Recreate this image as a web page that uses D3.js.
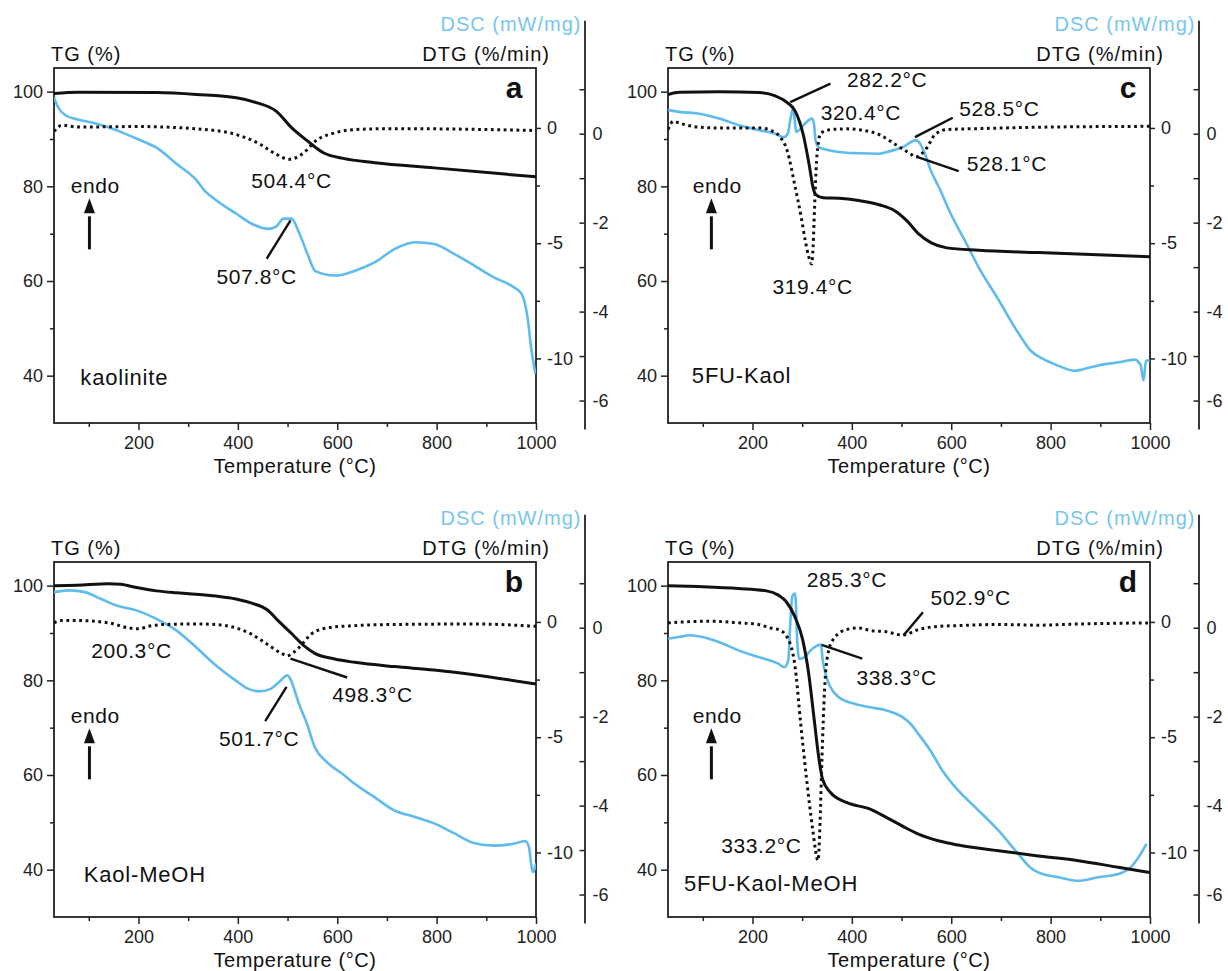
<!DOCTYPE html>
<html>
<head>
<meta charset="utf-8">
<script src="https://cdn.jsdelivr.net/npm/d3@7"></script>
<style>
body { margin: 0; background: #fff; }
svg text { font-family: "Liberation Sans", Arial, sans-serif; }
</style>
</head>
<body>
<div id="chart"></div>
<script>
// shared axis ranges (same for all four panels)
var tempDomain = [30, 1000];
var tgDomain = [30, 105];
var dtgDomain = [-12.8, 2.6];
var dscDomain = [-6.64, 2.55];

var tempTicks = [200, 400, 600, 800, 1000], tempMinor = [100, 300, 500, 700, 900];
var tgTicks = [40, 60, 80, 100], tgMinor = [50, 70, 90];
var dtgTicks = [0, -5, -10], dtgMinor = [-2.5, -7.5];
var dscTicks = [0, -2, -4, -6], dscMinor = [1, -1, -3, -5];

// ---- panel a : kaolinite ----  [temperature, value]
var tgA = [[30,99.6],[78,99.9],[237,99.8],[317,99.4],[397,98.7],[437,97.7],[477,95.9],[508,92.4],[540,89.6],[572,87.1],[612,85.9],[676,85.0],[795,83.9],[1000,82.0]];
var dtgA = [[30,-0.15],[46,0.12],[78,0.04],[199,0.06],[317,-0.04],[397,-0.29],[445,-0.71],[477,-1.14],[504,-1.36],[533,-1.07],[556,-0.57],[596,-0.21],[636,-0.07],[716,-0.03],[1000,-0.11]];
var dscA = [[30,0.82],[38,0.60],[54,0.41],[78,0.32],[118,0.22],[158,0.07],[198,-0.12],[237,-0.32],[277,-0.68],[317,-1.05],[333,-1.28],[357,-1.50],[397,-1.80],[429,-2.03],[461,-2.14],[477,-2.09],[492,-1.91],[508,-1.91],[524,-2.25],[540,-2.70],[556,-3.09],[596,-3.19],[636,-3.08],[676,-2.89],[716,-2.59],[756,-2.44],[795,-2.48],[835,-2.70],[875,-2.96],[915,-3.23],[955,-3.45],[971,-3.60],[983,-4.13],[991,-4.88],[999,-5.40]];

// ---- panel b : Kaol-MeOH ----
var tgB = [[30,100],[76,100.1],[140,100.4],[164,100.3],[196,99.6],[236,98.9],[276,98.5],[316,98.2],[356,97.8],[396,97.2],[428,96.3],[459,94.9],[483,92.4],[507,90.0],[531,87.5],[555,85.7],[595,84.5],[635,83.8],[715,82.9],[795,82.2],[875,81.2],[1000,79.2]];
var dtgB = [[30,-0.04],[44,0.06],[76,0.06],[140,-0.04],[180,-0.26],[200,-0.3],[220,-0.19],[252,-0.11],[316,-0.09],[356,-0.11],[396,-0.26],[428,-0.54],[459,-0.97],[491,-1.4],[499,-1.47],[523,-1.11],[547,-0.54],[579,-0.26],[635,-0.16],[715,-0.11],[875,-0.09],[1000,-0.19]];
var dscB = [[30,0.80],[60,0.84],[92,0.80],[124,0.65],[156,0.50],[196,0.39],[236,0.20],[276,-0.06],[316,-0.44],[356,-0.85],[396,-1.19],[420,-1.37],[444,-1.43],[467,-1.37],[483,-1.22],[500,-1.07],[507,-1.19],[523,-1.71],[539,-2.16],[555,-2.69],[579,-3.02],[611,-3.29],[635,-3.51],[675,-3.81],[715,-4.11],[755,-4.25],[795,-4.40],[835,-4.62],[875,-4.84],[915,-4.90],[954,-4.86],[978,-4.80],[986,-4.94],[990,-5.30],[994,-5.50],[1000,-5.30]];

// ---- panel c : 5FU-Kaol ----
var tgC = [[30,99.4],[53,99.9],[133,100],[214,99.8],[246,99.1],[270,97.7],[286,95.9],[302,91.0],[314,84.6],[322,79.7],[328,78.2],[342,77.6],[374,77.5],[414,77.0],[455,76.1],[487,74.8],[511,72.7],[535,69.9],[559,68.1],[591,67.0],[655,66.5],[776,66.0],[1000,65.1]];
var dtgC = [[30,-0.07],[41,0.29],[53,0.21],[93,0.03],[133,0],[214,0],[238,-0.12],[254,-0.35],[270,-1.0],[286,-2.57],[298,-3.86],[306,-4.86],[313,-5.57],[319,-5.9],[322,-5.14],[325,-3.43],[329,-1.43],[333,-0.57],[338,-0.21],[358,-0.07],[390,-0.04],[422,-0.1],[455,-0.29],[487,-0.71],[519,-1.14],[528,-1.26],[551,-0.86],[567,-0.29],[591,-0.07],[655,-0.03],[776,0.03],[1000,0.07]];
var dscC = [[30,0.53],[53,0.49],[93,0.45],[133,0.34],[173,0.19],[214,0.08],[246,0],[263,-0.08],[271,0],[276,0.30],[282,0.58],[285,0.30],[288,0.04],[294,0.08],[306,0.23],[320,0.34],[324,0.20],[327,-0.15],[333,-0.30],[342,-0.34],[374,-0.41],[414,-0.44],[455,-0.45],[471,-0.41],[503,-0.30],[528,-0.15],[535,-0.19],[547,-0.45],[559,-0.83],[575,-1.20],[599,-1.80],[631,-2.48],[655,-3.0],[696,-3.75],[736,-4.5],[760,-4.88],[784,-5.06],[816,-5.22],[848,-5.33],[864,-5.30],[896,-5.21],[937,-5.14],[969,-5.08],[981,-5.20],[987,-5.55],[992,-5.10],[999,-5.10]];

// ---- panel d : 5FU-Kaol-MeOH ----
var tgD = [[30,100],[91,99.8],[172,99.4],[228,98.9],[252,98.0],[268,96.6],[285,93.5],[301,88.6],[313,81.5],[325,71.0],[333,64.0],[341,59.1],[357,56.3],[389,54.2],[437,52.8],[470,51.0],[502,49.2],[534,47.5],[574,46.1],[614,45.2],[695,44.0],[775,42.9],[856,41.9],[936,40.5],[1000,39.4]];
var dtgD = [[30,-0.04],[51,-0.01],[116,0.03],[172,-0.04],[212,-0.11],[236,-0.26],[252,-0.33],[268,-0.6],[285,-1.83],[297,-4.4],[309,-6.83],[321,-8.97],[332,-10.35],[336,-8.69],[340,-5.83],[345,-2.97],[353,-1.26],[365,-0.69],[389,-0.33],[413,-0.26],[437,-0.37],[470,-0.43],[502,-0.57],[534,-0.33],[574,-0.19],[614,-0.16],[695,-0.11],[775,-0.14],[856,-0.09],[1000,-0.04]];
var dscD = [[30,-0.25],[51,-0.21],[75,-0.17],[99,-0.21],[132,-0.32],[172,-0.51],[212,-0.66],[252,-0.81],[264,-0.89],[272,-0.74],[276,0.09],[280,0.70],[285,0.77],[287,0.62],[290,-0.29],[294,-0.70],[305,-0.66],[317,-0.51],[338,-0.38],[341,-0.70],[349,-1.11],[357,-1.34],[373,-1.56],[405,-1.71],[437,-1.79],[470,-1.86],[502,-2.01],[518,-2.16],[534,-2.39],[558,-2.76],[582,-3.21],[614,-3.66],[655,-4.11],[695,-4.56],[735,-5.09],[759,-5.39],[775,-5.50],[816,-5.61],[856,-5.69],[896,-5.61],[936,-5.54],[961,-5.39],[977,-5.16],[993,-4.86]];

// peak labels, placed in (temperature, TG) units of each panel
var notesA = [{text: "504.4°C", t: 508, v: 81.2}, {text: "507.8°C", t: 438, v: 60.8}];
var notesB = [{text: "200.3°C", t: 186, v: 86.3}, {text: "498.3°C", t: 671, v: 76.8}, {text: "501.7°C", t: 443, v: 67.6}];
var notesC = [{text: "282.2°C", t: 471, v: 102.4}, {text: "320.4°C", t: 418, v: 95.4}, {text: "528.5°C", t: 697, v: 96.4}, {text: "528.1°C", t: 712, v: 84.8}, {text: "319.4°C", t: 321, v: 58.8}];
var notesD = [{text: "285.3°C", t: 390, v: 101.1}, {text: "502.9°C", t: 639, v: 97.3}, {text: "338.3°C", t: 490, v: 80.5}, {text: "333.2°C", t: 218, v: 45.1}];

// leader lines [t1, tg1, t2, tg2]
var leadersA = [[458, 64.7, 506, 72.8]];
var leadersB = [[506, 84.6, 620, 80.6], [455, 71.4, 498, 78.6]];
var leadersC = [[276, 97.8, 357, 101.7], [527, 90.4, 603, 94.5], [531, 86.2, 615, 83.2]];
var leadersD = [[504, 89.5, 543, 94.4], [339, 87.5, 421, 84.6]];

var panels = [
    {letter: "a", left: 54, top: 68, tg: tgA, dtg: dtgA, dsc: dscA, notes: notesA, leaders: leadersA, sample: "kaolinite", sampleAt: [83, 39.8], endoAt: [113, 80]},
    {letter: "b", left: 54, top: 562, tg: tgB, dtg: dtgB, dsc: dscB, notes: notesB, leaders: leadersB, sample: "Kaol-MeOH", sampleAt: [90, 39.1], endoAt: [113, 72.4]},
    {letter: "c", left: 668, top: 68, tg: tgC, dtg: dtgC, dsc: dscC, notes: notesC, leaders: leadersC, sample: "5FU-Kaol", sampleAt: [78, 40.2], endoAt: [129, 80]},
    {letter: "d", left: 668, top: 562, tg: tgD, dtg: dtgD, dsc: dscD, notes: notesD, leaders: leadersD, sample: "5FU-Kaol-MeOH", sampleAt: [62, 37.1], endoAt: [129, 72.4]}
];

var widthP = 482, heightP = 355;
var dscColor = "#5fbbec", dscLabelColor = "#78c6f0";
// plain hyphen for negatives, like the original figure
var fmt = function (d) { return String(d); };

var svg = d3.select("#chart").append("svg")
    .attr("width", 1228)
    .attr("height", 971);

function styleAxis(g, size) {
    g.select(".domain").remove();
    g.selectAll("line").attr("stroke", "#222").attr("stroke-width", 1.5);
    g.selectAll("text").attr("font-size", size).attr("fill", "#222")
        .attr("font-family", "Liberation Sans, Arial, sans-serif");
}

function drawPanel(p) {
    var g = svg.append("g").attr("transform", "translate(" + p.left + "," + p.top + ")");

    var x = d3.scaleLinear().domain(tempDomain).range([0, widthP]);
    var yTG = d3.scaleLinear().domain(tgDomain).range([heightP, 0]);
    var yDTG = d3.scaleLinear().domain(dtgDomain).range([heightP, 0]);
    var yDSC = d3.scaleLinear().domain(dscDomain).range([heightP + 6, -47.7]);

    // axes
    var gx = g.append("g").attr("transform", "translate(0," + heightP + ")")
        .call(d3.axisBottom(x).tickValues(tempTicks).tickFormat(fmt).tickSize(7).tickPadding(6));
    styleAxis(gx, 18);
    var gx2 = g.append("g").attr("transform", "translate(0," + heightP + ")")
        .call(d3.axisBottom(x).tickValues(tempMinor).tickSize(4).tickFormat(""));
    styleAxis(gx2, 18);

    var gy = g.append("g").call(d3.axisLeft(yTG).tickValues(tgTicks).tickFormat(fmt).tickSize(7).tickPadding(4));
    styleAxis(gy, 18);
    var gy2 = g.append("g").call(d3.axisLeft(yTG).tickValues(tgMinor).tickSize(4).tickFormat(""));
    styleAxis(gy2, 18);

    var gr = g.append("g").attr("transform", "translate(" + widthP + ",0)")
        .call(d3.axisRight(yDTG).tickValues(dtgTicks).tickFormat(fmt).tickSize(5).tickPadding(6));
    styleAxis(gr, 18);
    var gr2 = g.append("g").attr("transform", "translate(" + widthP + ",0)")
        .call(d3.axisRight(yDTG).tickValues(dtgMinor).tickSize(4).tickFormat(""));
    styleAxis(gr2, 18);

    // separate DSC axis, ticks pointing inward
    var dscX = widthP + 48.5;
    var gd = g.append("g").attr("transform", "translate(" + dscX + ",0)")
        .call(d3.axisRight(yDSC).tickValues(dscTicks).tickFormat(fmt).tickSizeInner(-5).tickSizeOuter(0).tickPadding(8));
    gd.select(".domain").attr("stroke", "#222").attr("stroke-width", 1.8);
    gd.selectAll("line").attr("stroke", "#222").attr("stroke-width", 1.5);
    gd.selectAll("text").attr("font-size", 18).attr("fill", "#222")
        .attr("font-family", "Liberation Sans, Arial, sans-serif");
    g.append("g").attr("transform", "translate(" + dscX + ",0)")
        .call(d3.axisRight(yDSC).tickValues(dscMinor).tickSizeInner(-5).tickSizeOuter(0).tickFormat(""))
        .call(function (s) { s.select(".domain").remove(); s.selectAll("line").attr("stroke", "#222").attr("stroke-width", 1.5); });

    // frame
    g.append("rect").attr("width", widthP).attr("height", heightP)
        .attr("fill", "none").attr("stroke", "#222").attr("stroke-width", 1.8);

    // axis titles
    g.append("text").text("TG (%)").attr("x", -3).attr("y", -7)
        .attr("font-size", 20).attr("letter-spacing", 1).attr("fill", "#111");
    g.append("text").text("DTG (%/min)").attr("x", widthP + 14).attr("y", -7)
        .attr("text-anchor", "end").attr("font-size", 20).attr("letter-spacing", 1).attr("fill", "#111");
    g.append("text").text("DSC (mW/mg)").attr("x", dscX - 3).attr("y", -37)
        .attr("text-anchor", "end").attr("font-size", 20).attr("letter-spacing", 1).attr("fill", dscLabelColor);
    g.append("text").text("Temperature (°C)").attr("x", widthP / 2).attr("y", heightP + 50)
        .attr("text-anchor", "middle").attr("font-size", 20).attr("letter-spacing", 0.6).attr("fill", "#111");

    // curves
    var clip = "clip-" + p.letter;
    g.append("clipPath").attr("id", clip).append("rect").attr("width", widthP).attr("height", heightP);
    var plot = g.append("g").attr("clip-path", "url(#" + clip + ")");

    var lineDSC = d3.line().curve(d3.curveMonotoneX).x(function (d) { return x(d[0]); }).y(function (d) { return yDSC(d[1]); });
    var lineDTG = d3.line().curve(d3.curveMonotoneX).x(function (d) { return x(d[0]); }).y(function (d) { return yDTG(d[1]); });
    var lineTG = d3.line().curve(d3.curveMonotoneX).x(function (d) { return x(d[0]); }).y(function (d) { return yTG(d[1]); });

    plot.append("path").attr("d", lineDSC(p.dsc)).attr("fill", "none")
        .attr("stroke", dscColor).attr("stroke-width", 2.6).attr("stroke-linejoin", "round");
    plot.append("path").attr("d", lineDTG(p.dtg)).attr("fill", "none")
        .attr("stroke", "#111").attr("stroke-width", 3).attr("stroke-dasharray", "2.8,3.6");
    plot.append("path").attr("d", lineTG(p.tg)).attr("fill", "none")
        .attr("stroke", "#111").attr("stroke-width", 3);

    // peak labels + leader lines
    p.leaders.forEach(function (l) {
        g.append("line").attr("x1", x(l[0])).attr("y1", yTG(l[1]))
            .attr("x2", x(l[2])).attr("y2", yTG(l[3]))
            .attr("stroke", "#111").attr("stroke-width", 2.4);
    });
    p.notes.forEach(function (n) {
        g.append("text").text(n.text).attr("x", x(n.t)).attr("y", yTG(n.v) + 7)
            .attr("text-anchor", "middle").attr("font-size", 21).attr("letter-spacing", 0.6).attr("fill", "#111");
    });

    // endo arrow
    var ex = x(p.endoAt[0]), ey = yTG(p.endoAt[1]);
    g.append("text").text("endo").attr("x", ex).attr("y", ey + 7)
        .attr("text-anchor", "middle").attr("font-size", 21).attr("letter-spacing", 0.6).attr("fill", "#111");
    var ax = ex - 5.8;
    g.append("path").attr("d", "M" + ax + "," + (ey + 12) + "L" + (ax - 5.5) + "," + (ey + 27) + "L" + (ax + 5.5) + "," + (ey + 27) + "Z")
        .attr("fill", "#111");
    g.append("line").attr("x1", ax).attr("x2", ax).attr("y1", ey + 30).attr("y2", ey + 63)
        .attr("stroke", "#111").attr("stroke-width", 3);

    // sample name and panel letter
    g.append("text").text(p.sample).attr("x", x(p.sampleAt[0])).attr("y", yTG(p.sampleAt[1]) + 8)
        .attr("font-size", 22).attr("letter-spacing", 0.8).attr("fill", "#111");
    g.append("text").text(p.letter).attr("x", widthP - 22).attr("y", 30)
        .attr("text-anchor", "middle").attr("font-size", 30).attr("font-weight", "bold").attr("fill", "#111");
}

panels.forEach(drawPanel);
</script>
</body>
</html>
